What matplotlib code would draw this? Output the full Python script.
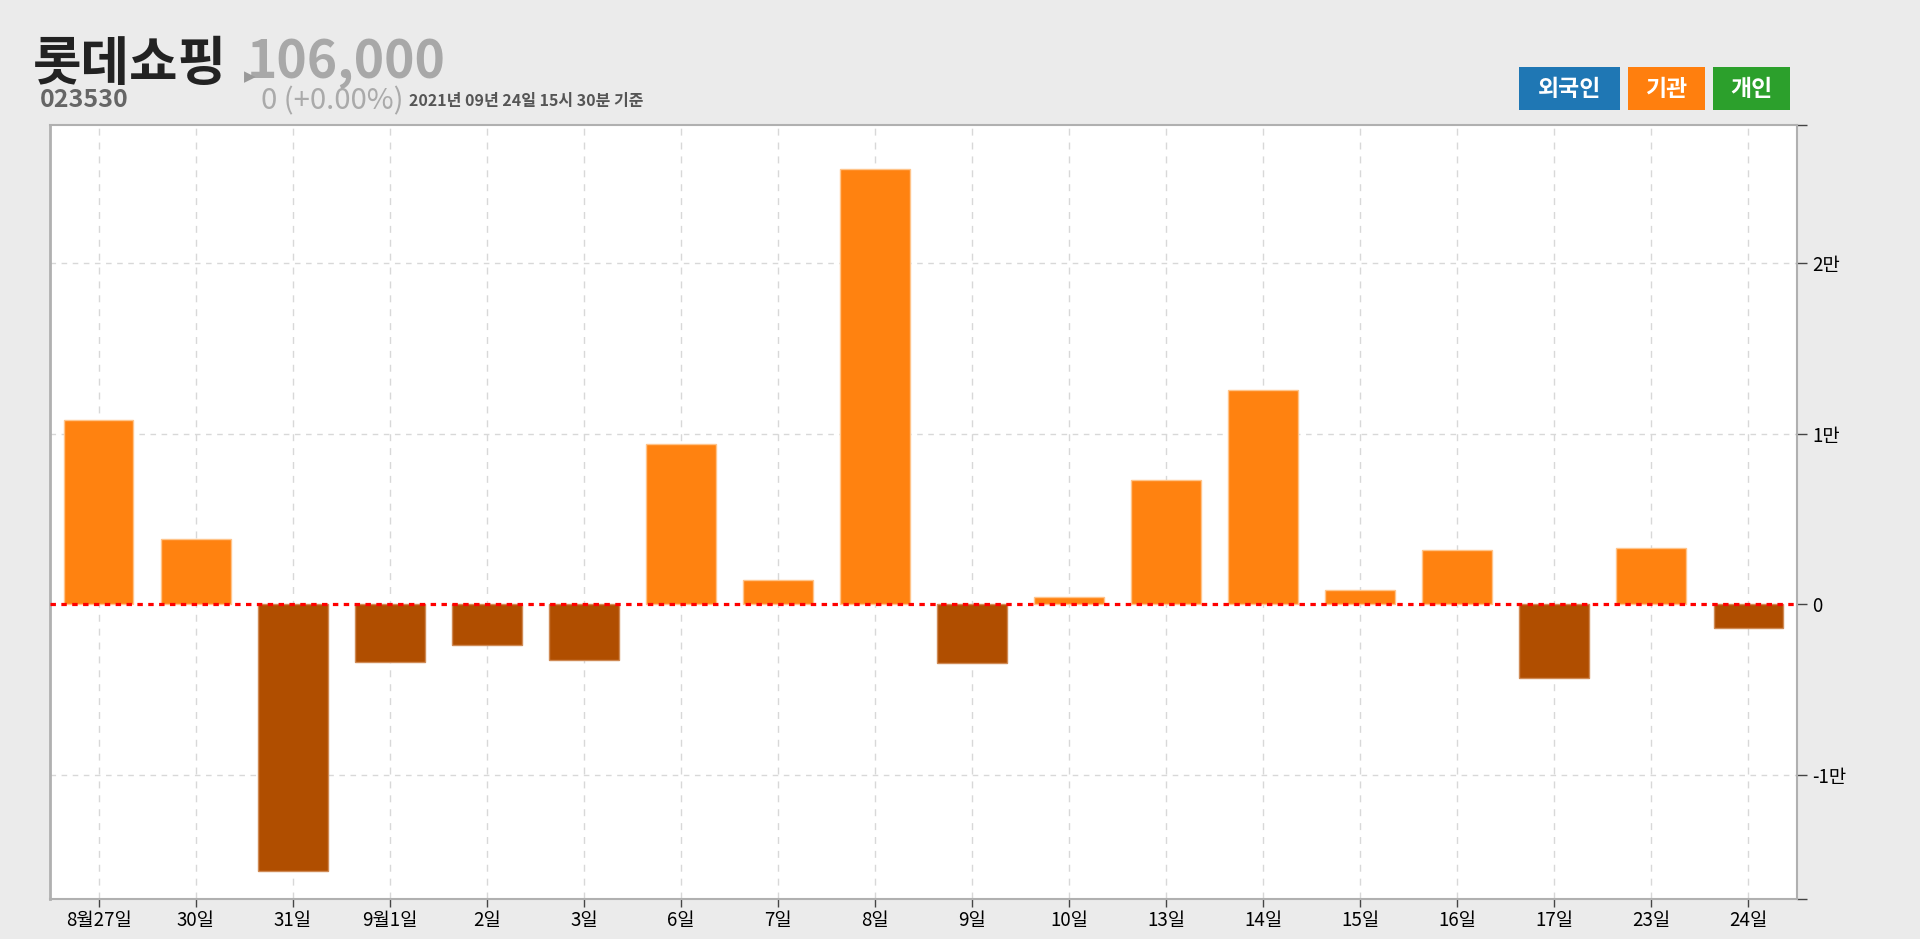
import matplotlib
matplotlib.use("Agg")
import matplotlib.pyplot as plt
import numpy as np

plt.rcParams['font.family'] = ['Noto Sans CJK KR', 'DejaVu Sans']

# ---- data ----
dates = ["8월27일", "30일", "31일", "9월1일", "2일", "3일", "6일", "7일", "8일",
         "9일", "10일", "13일", "14일", "15일", "16일", "17일", "23일", "24일"]
inst_net = [10780, 3790, -15640, -3420, -2380, -3300, 9390, 1390, 25540,
            -3480, 430, 7300, 12580, 820, 3160, -4360, 3260, -1390]
ytick_vals = [-10000, 0, 10000, 20000]
ytick_labels = ["-1만", "0", "1만", "2만"]
legend_names = ["외국인", "기관", "개인"]
legend_colors = ["#1f77b4", "#ff7f0e", "#2ca02c"]
title_name = "롯데쇼핑"
title_code = "023530"
price = "106,000"
change = "0 (+0.00%)"
timestamp = "2021년 09년 24일 15시 30분 기준"

W, H = 1920, 939
fig = plt.figure(figsize=(W / 100, H / 100), dpi=100)
fig.patch.set_facecolor("#ebebeb")

def fx(x):
    return x / W

def fy(y):
    return 1 - y / H

ax = fig.add_axes([fx(50), fy(899), fx(1797) - fx(50), fy(125) - fy(899)])
ax.set_facecolor("white")

x = np.arange(len(dates))
pos_color = "#ff8210"
neg_color = "#b04e00"
colors = [pos_color if v >= 0 else neg_color for v in inst_net]
edges = ["#ffc48a" if v >= 0 else "#cf8a55" for v in inst_net]
ax.bar(x, inst_net, width=0.72, color=colors, edgecolor=edges, linewidth=1, zorder=3)

ax.set_xlim(-0.5, len(dates) - 0.5)
ax.set_ylim(-17300, 28100)

ylo, yhi = ax.get_ylim()
ax.set_yticks([ylo] + ytick_vals + [yhi])
ax.set_yticklabels([""] + ytick_labels + [""])
ax.yaxis.tick_right()
ax.tick_params(axis="y", direction="out", length=7, width=1, color="#444444",
               labelsize=13.5, pad=4, labelcolor="black")

ax.set_xticks(list(x))
ax.set_xticklabels(dates)
ax.tick_params(axis="x", direction="out", length=6, width=1, color="#444444",
               labelsize=13.5, pad=2, labelcolor="black")

# gridlines
for xi in x:
    ax.axvline(xi, color="#d8d8d8", lw=1, dashes=(5, 5), zorder=1)
for yv in ytick_vals:
    if yv != 0:
        ax.axhline(yv, color="#d8d8d8", lw=1, dashes=(4, 4), zorder=1)

ax.axhline(0, color="#ff0000", lw=2.3, dashes=(1.7, 1.7), zorder=4)

for side in ["left", "right", "bottom", "top"]:
    ax.spines[side].set_color("#b0b0b0")
ax.spines["left"].set_linewidth(2)
ax.spines["right"].set_linewidth(1.5)
ax.spines["bottom"].set_linewidth(1.5)
ax.spines["top"].set_linewidth(1.5)

# ---- header ----
fig.text(fx(33), fy(80), title_name, fontsize=38, fontweight="bold",
         color="#222222", va="baseline", ha="left")
fig.text(fx(247), fy(78), price, fontsize=37, fontweight="bold",
         color="#a8a8a8", va="baseline", ha="left")
fig.text(fx(244), fy(81), "▶", fontsize=11, color="#999999",
         va="baseline", ha="left", family=["DejaVu Sans"])
fig.text(fx(40), fy(107), title_code, fontsize=18, fontweight="bold",
         color="#666666", va="baseline", ha="left")
fig.text(fx(261), fy(109), change, fontsize=21, fontweight="medium", color="#aaaaaa",
         va="baseline", ha="left")
fig.text(fx(409), fy(106), timestamp, fontsize=11.5, fontweight="bold",
         color="#555555", va="baseline", ha="left")

# ---- legend buttons ----
boxes = [(1519, 1620), (1628, 1705), (1713, 1790)]
for (x0, x1), name, col in zip(boxes, legend_names, legend_colors):
    fig.patches.append(plt.Rectangle((fx(x0), fy(110)), fx(x1) - fx(x0), fy(67) - fy(110),
                                     transform=fig.transFigure, facecolor=col,
                                     edgecolor="none", zorder=1))
    fig.text(fx((x0 + x1) / 2), fy(89), name, fontsize=16.5, fontweight="bold",
             color="white", ha="center", va="center", zorder=2)

fig.savefig("out.png", dpi=100, facecolor=fig.get_facecolor())
